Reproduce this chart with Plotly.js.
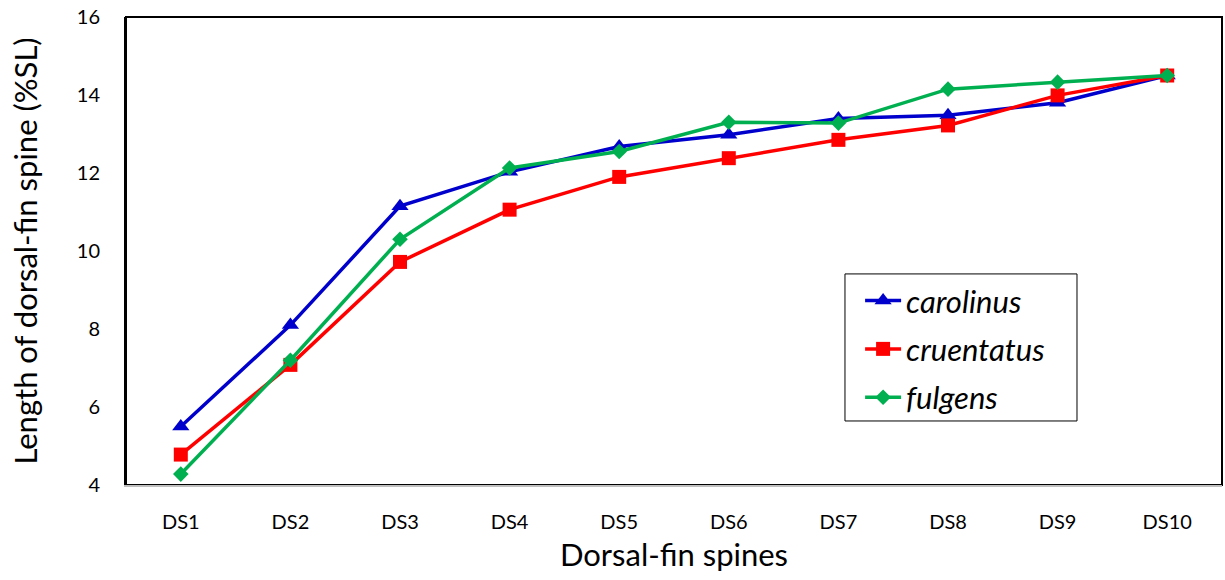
<!DOCTYPE html>
<html>
<head>
<meta charset="utf-8">
<script src="https://cdn.plot.ly/plotly-3.0.1.min.js"></script>
<style>html,body{margin:0;padding:0;background:#fff;}#chart{width:1225px;height:580px;}</style>
</head>
<body>
<div id="chart"></div>
<script>
const categories = ["DS1","DS2","DS3","DS4","DS5","DS6","DS7","DS8","DS9","DS10"];
const carolinus  = [5.5, 8.1, 11.15, 12.03, 12.68, 12.98, 13.4, 13.48, 13.8, 14.5];
const cruentatus = [4.78, 7.08, 9.72, 11.06, 11.9, 12.38, 12.85, 13.22, 13.99, 14.5];
const fulgens    = [4.28, 7.2, 10.3, 12.13, 12.55, 13.3, 13.28, 14.15, 14.33, 14.5];
const seriesNames = ["carolinus","cruentatus","fulgens"];

const font = "Lato, 'Open Sans', sans-serif";
const traces = [
  {x: categories, y: carolinus, name: seriesNames[0], legendgroup: "a", mode: "lines+markers",
   line: {color: "#0000CC", width: 3.5}, marker: {symbol: "triangle-up", size: 15, color: "#0000CC"}},
  {x: categories, y: cruentatus, name: seriesNames[1], legendgroup: "b", mode: "lines+markers",
   line: {color: "#FF0000", width: 3.5}, marker: {symbol: "square", size: 14, color: "#FF0000"}},
  {x: categories, y: fulgens, name: seriesNames[2], legendgroup: "c", mode: "lines+markers",
   line: {color: "#00B050", width: 3.5}, marker: {symbol: "diamond", size: 12, color: "#00B050"}}
];
const layout = {
  width: 1225, height: 580,
  margin: {l: 126, r: 3, t: 17, b: 95},
  paper_bgcolor: "#fff", plot_bgcolor: "#fff",
  font: {family: font, color: "#000"},
  showlegend: true,
  legend: {x: 0.6698, y: 0.451, xanchor: "left", yanchor: "top",
    borderwidth: 0, bgcolor: "rgba(0,0,0,0)",
    font: {family: font, size: 31, style: "italic", color: "#000"},
    itemwidth: 36, tracegroupgap: 5},
  xaxis: {type: "category", range: [-0.5, 9.5], showgrid: false, zeroline: false,
    showline: true, linecolor: "#BFBFBF", linewidth: 2, ticks: "",
    tickfont: {size: 20, family: font}, ticklabelstandoff: 18,
    title: {text: "Dorsal-fin spines", font: {size: 31, family: font}, standoff: 12}},
  yaxis: {range: [4, 16], dtick: 2, showgrid: false, zeroline: false,
    showline: true, linecolor: "#000", linewidth: 2, ticks: "",
    tickfont: {size: 20, family: font}, ticklabelstandoff: 20,
    title: {text: "Length of dorsal-fin spine (%SL)", font: {size: 31, family: font}, standoff: 30}},
  shapes: [
    {type: "rect", xref: "paper", yref: "paper", x0: 0, x1: 1, y0: 0, y1: 1,
     line: {color: "#000", width: 2}, layer: "below"},
    {type: "rect", xref: "paper", yref: "paper", x0: 0.656, x1: 0.8677, y0: 0.1368, y1: 0.451,
     line: {color: "#000", width: 1}, fillcolor: "#fff", layer: "below"}
  ]
};
Plotly.newPlot("chart", traces, layout, {displayModeBar: false});
</script>
</body>
</html>
